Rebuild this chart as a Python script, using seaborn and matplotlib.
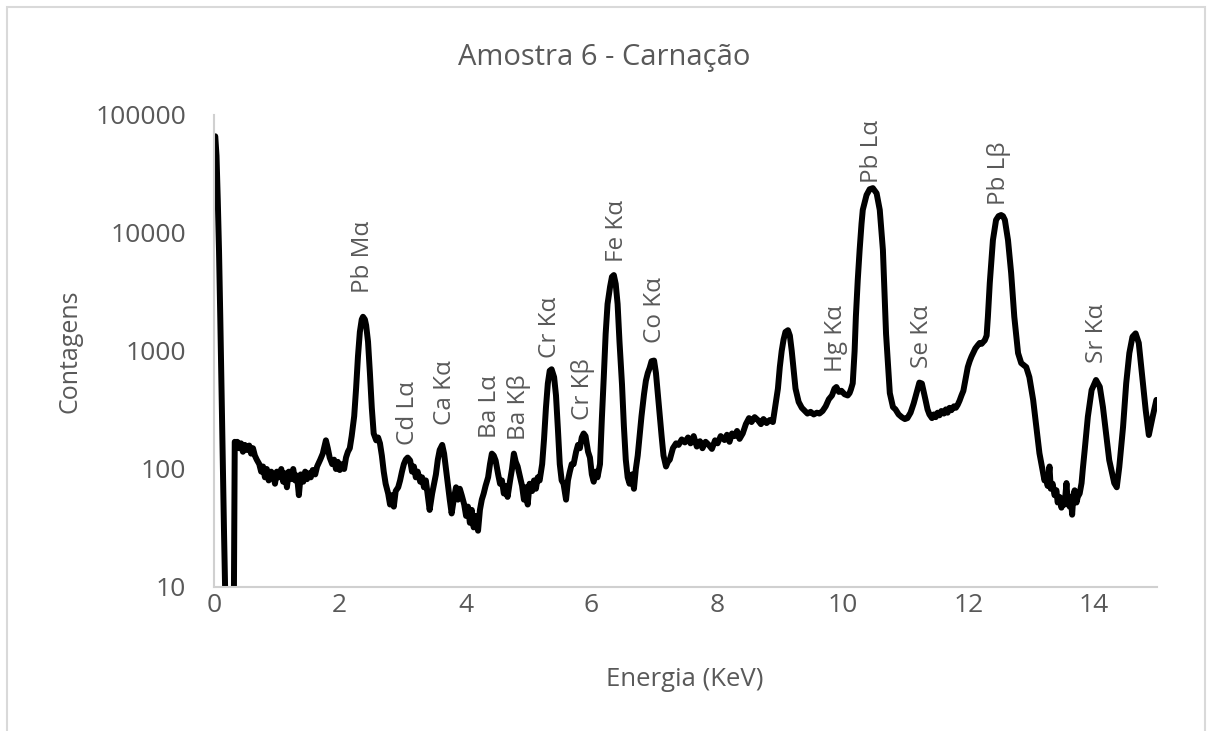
import matplotlib
matplotlib.use("Agg")
import matplotlib.pyplot as plt
import seaborn as sns
import pandas as pd
from matplotlib.patches import Rectangle
from matplotlib.ticker import FixedLocator, NullLocator

# espectro XRF (energia em keV, contagens)
energia = [
    0.02, 0.04, 0.06, 0.08, 0.10, 0.12, 0.14, 0.16, 0.18, 0.20,
    0.31, 0.33, 0.35, 0.37, 0.40, 0.43, 0.46, 0.49, 0.52, 0.56,
    0.59, 0.62, 0.65, 0.68, 0.72, 0.75, 0.78, 0.81, 0.84, 0.87,
    0.91, 0.94, 0.97, 1.00, 1.03, 1.07, 1.10, 1.13, 1.16, 1.19,
    1.22, 1.26, 1.29, 1.32, 1.35, 1.38, 1.42, 1.45, 1.48, 1.51,
    1.54, 1.57, 1.61, 1.64, 1.69, 1.73, 1.78, 1.81, 1.84, 1.88,
    1.91, 1.94, 1.97, 2.00, 2.04, 2.07, 2.10, 2.13, 2.16, 2.19,
    2.23, 2.26, 2.29, 2.32, 2.35, 2.37, 2.40, 2.42, 2.45, 2.48,
    2.51, 2.54, 2.58, 2.61, 2.64, 2.67, 2.70, 2.73, 2.77, 2.80,
    2.83, 2.86, 2.89, 2.93, 2.96, 2.99, 3.02, 3.05, 3.08, 3.12,
    3.15, 3.18, 3.21, 3.24, 3.28, 3.31, 3.34, 3.37, 3.40, 3.43,
    3.47, 3.50, 3.53, 3.56, 3.59, 3.63, 3.66, 3.69, 3.72, 3.75,
    3.78, 3.82, 3.85, 3.88, 3.91, 3.94, 3.98, 4.01, 4.04, 4.07,
    4.10, 4.13, 4.17, 4.20, 4.23, 4.26, 4.29, 4.32, 4.36, 4.39,
    4.42, 4.45, 4.48, 4.52, 4.55, 4.58, 4.61, 4.64, 4.67, 4.71,
    4.74, 4.77, 4.80, 4.83, 4.87, 4.90, 4.93, 4.96, 4.99, 5.02,
    5.06, 5.09, 5.12, 5.15, 5.18, 5.22, 5.25, 5.28, 5.31, 5.34,
    5.37, 5.41, 5.44, 5.47, 5.50, 5.53, 5.56, 5.60, 5.63, 5.66,
    5.69, 5.72, 5.76, 5.79, 5.82, 5.85, 5.88, 5.91, 5.95, 5.98,
    6.01, 6.04, 6.07, 6.10, 6.14, 6.17, 6.20, 6.23, 6.26, 6.30,
    6.33, 6.36, 6.39, 6.42, 6.45, 6.49, 6.52, 6.55, 6.58, 6.61,
    6.65, 6.68, 6.71, 6.74, 6.77, 6.80, 6.84, 6.87, 6.90, 6.93,
    6.96, 7.00, 7.03, 7.06, 7.09, 7.12, 7.15, 7.19, 7.22, 7.25,
    7.30, 7.35, 7.39, 7.44, 7.49, 7.54, 7.58, 7.63, 7.68, 7.73,
    7.77, 7.82, 7.87, 7.92, 7.97, 8.01, 8.06, 8.12, 8.16, 8.20,
    8.24, 8.28, 8.32, 8.36, 8.41, 8.46, 8.51, 8.55, 8.60, 8.65,
    8.70, 8.74, 8.79, 8.84, 8.89, 8.92, 8.97, 9.00, 9.03, 9.06,
    9.09, 9.13, 9.16, 9.19, 9.22, 9.25, 9.30, 9.35, 9.40, 9.44,
    9.49, 9.54, 9.59, 9.63, 9.68, 9.73, 9.78, 9.83, 9.87, 9.90,
    9.94, 9.98, 10.03, 10.08, 10.11, 10.13, 10.16, 10.19, 10.21, 10.24,
    10.27, 10.30, 10.32, 10.38, 10.43, 10.48, 10.54, 10.59, 10.64, 10.69,
    10.75, 10.80, 10.84, 10.89, 10.94, 10.99, 11.03, 11.08, 11.13, 11.18,
    11.22, 11.26, 11.29, 11.32, 11.35, 11.38, 11.42, 11.45, 11.48, 11.51,
    11.54, 11.57, 11.61, 11.64, 11.67, 11.70, 11.73, 11.77, 11.80, 11.83,
    11.86, 11.89, 11.92, 11.96, 11.99, 12.02, 12.05, 12.08, 12.11, 12.15,
    12.18, 12.21, 12.24, 12.26, 12.29, 12.31, 12.34, 12.39, 12.44, 12.48,
    12.52, 12.55, 12.58, 12.63, 12.68, 12.73, 12.79, 12.84, 12.88, 12.92,
    12.97, 13.03, 13.08, 13.13, 13.18, 13.21, 13.24, 13.26, 13.29, 13.31,
    13.34, 13.37, 13.40, 13.42, 13.45, 13.48, 13.50, 13.53, 13.56, 13.58,
    13.61, 13.63, 13.65, 13.67, 13.69, 13.72, 13.74, 13.77, 13.80, 13.82,
    13.85, 13.90, 13.96, 14.03, 14.09, 14.14, 14.19, 14.24, 14.32, 14.36,
    14.40, 14.46, 14.51, 14.56, 14.61, 14.66, 14.71, 14.76, 14.82, 14.87,
    14.91, 14.93, 14.99,
]
contagens = [
    66000, 45000, 19000, 7000, 1900, 450, 100, 28, 8, 2,
    2, 170, 160, 170, 150, 165, 140, 160, 145, 158,
    135, 150, 130, 120, 110, 95, 105, 85, 100, 80,
    95, 90, 75, 95, 85, 100, 78, 92, 70, 95,
    82, 100, 80, 88, 60, 90, 78, 95, 82, 92,
    85, 98, 90, 105, 120, 135, 175, 150, 125, 110,
    120, 100, 115, 98, 110, 100, 125, 140, 150, 190,
    280, 480, 900, 1450, 1850, 1950, 1850, 1650, 1200, 650,
    330, 200, 175, 185, 165, 130, 95, 75, 62, 50,
    60, 48, 65, 70, 80, 95, 110, 120, 125, 118,
    95, 105, 85, 95, 78, 85, 70, 80, 60, 45,
    62, 75, 90, 120, 145, 160, 135, 100, 75, 55,
    42, 58, 70, 55, 68, 60, 50, 40, 48, 35,
    45, 32, 40, 30, 45, 55, 62, 72, 85, 110,
    135, 130, 118, 90, 75, 80, 62, 72, 58, 80,
    100, 135, 115, 105, 85, 72, 55, 70, 50, 75,
    65, 80, 68, 85, 80, 110, 180, 330, 530, 680,
    700, 600, 420, 220, 110, 80, 75, 55, 80, 95,
    110, 110, 140, 160, 150, 185, 200, 190, 140, 125,
    90, 78, 95, 85, 110, 270, 600, 1400, 2500, 3500,
    4250, 4400, 3700, 2500, 1200, 520, 230, 120, 85, 75,
    90, 68, 100, 130, 190, 280, 430, 560, 650, 720,
    820, 830, 650, 430, 280, 190, 130, 105, 115, 120,
    150, 165, 160, 178, 168, 185, 165, 190, 155, 172,
    150, 170, 160, 148, 175, 165, 190, 176, 195, 170,
    200, 190, 210, 180, 200, 240, 270, 250, 275, 260,
    240, 265, 245, 260, 250, 320, 480, 730, 1000, 1250,
    1450, 1500, 1350, 1000, 700, 480, 370, 330, 310, 295,
    305, 290, 300, 295, 310, 340, 390, 420, 480, 495,
    450, 460, 430, 420, 440, 470, 532, 1000, 1950, 4000,
    7200, 12000, 15700, 21000, 23500, 24000, 21700, 15700, 7200, 1400,
    440, 335, 320, 290, 275, 265, 270, 300, 360, 450,
    540, 530, 450, 380, 320, 290, 270, 290, 275, 300,
    285, 310, 295, 320, 300, 330, 315, 340, 330, 350,
    380, 420, 460, 600, 730, 820, 900, 970, 1050, 1120,
    1170, 1150, 1200, 1230, 1350, 1950, 3770, 8700, 12900, 13900,
    14200, 13900, 12900, 8700, 4580, 1950, 960, 790, 760, 730,
    600, 385, 227, 136, 98, 80, 88, 72, 105, 68,
    75, 60, 66, 52, 58, 47, 56, 50, 76, 52,
    48, 58, 41, 60, 66, 52, 58, 62, 76, 100,
    145, 277, 467, 568, 497, 335, 200, 119, 76, 70,
    104, 227, 532, 960, 1320, 1410, 1170, 650, 316, 194,
    245, 276, 385,
]

# identificacao dos picos (posicao do texto em keV e base do texto em contagens)
picos = ["Pb Mα", "Cd Lα", "Ca Kα", "Ba Lα", "Ba Kβ", "Cr Kα", "Cr Kβ",
         "Fe Kα", "Co Kα", "Hg Kα", "Pb Lα", "Se Kα", "Pb Lβ", "Sr Kα"]
picos_energia = [2.37, 3.08, 3.67, 4.39, 4.85, 5.34, 5.87,
                 6.41, 7.01, 9.89, 10.46, 11.26, 12.48, 14.04]
picos_base = [3090, 160, 236, 183, 176, 873, 260,
              5680, 1170, 664, 26500, 718, 17300, 791]

x_ticks = [0, 2, 4, 6, 8, 10, 12, 14]
y_ticks = [10, 100, 1000, 10000, 100000]
y_tick_labels = ["10", "100", "1000", "10000", "100000"]

cinza = "#595959"

sns.set_theme(style="white")
plt.rcParams["font.family"] = ["Open Sans", "DejaVu Sans"]

df = pd.DataFrame({"Energia": energia, "Contagens": contagens})

fig = plt.figure(figsize=(12.08, 7.31), dpi=100)
ax = fig.add_axes([214 / 1208, 1 - 587 / 731, (1157 - 214) / 1208, (587 - 115) / 731])

sns.lineplot(data=df, x="Energia", y="Contagens", ax=ax, color="black",
             linewidth=4.3, estimator=None, sort=False)

ax.set_yscale("log")
ax.set_ylim(10, 100000)
ax.set_xlim(0, 15)
ax.yaxis.set_major_locator(FixedLocator(y_ticks))
ax.yaxis.set_minor_locator(NullLocator())
ax.set_yticklabels(y_tick_labels)
ax.set_xticks(x_ticks)
ax.set_xticklabels([str(t) for t in x_ticks])
ax.tick_params(axis="both", length=0, labelsize=19, colors=cinza)
ax.tick_params(axis="y", pad=20)
ax.tick_params(axis="x", pad=4)
ax.set_xlabel("")
ax.set_ylabel("")

for s in ["top", "right"]:
    ax.spines[s].set_visible(False)
for s in ["left", "bottom"]:
    ax.spines[s].set_color("#d0d0d0")
    ax.spines[s].set_linewidth(1.5)

for nome, e, base in zip(picos, picos_energia, picos_base):
    ax.text(e, base, nome, rotation=90, ha="center", va="bottom",
            fontsize=17.5, color=cinza)

fig.text(0.5, 1 - 58 / 731, "Amostra 6 - Carnação", ha="center", va="center",
         fontsize=21, color=cinza)
fig.text(685 / 1208, 1 - 680 / 731, "Energia (KeV)", ha="center", va="center",
         fontsize=18.5, color=cinza)
fig.text(70 / 1208, 1 - 351 / 731, "Contagens", ha="center", va="center",
         rotation=90, fontsize=18, color=cinza)

# moldura da area do grafico
fig.patches.append(Rectangle((7 / 1208, -0.05), (1205 - 7) / 1208, 1.05 - 7 / 731,
                             transform=fig.transFigure, fill=False,
                             edgecolor="#d9d9d9", linewidth=1.5))

fig.savefig("out.png", dpi=100)
plt.close(fig)
